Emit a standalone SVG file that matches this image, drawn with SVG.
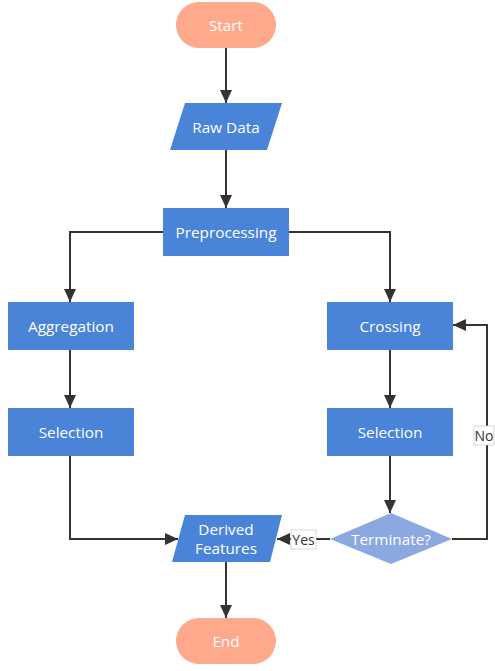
<svg xmlns="http://www.w3.org/2000/svg" width="495" height="671" viewBox="0 0 495 671">
<style>
.t{font-family:"Open Sans","Noto Sans",sans-serif;font-size:15.3px;fill:#fff;text-anchor:middle;dominant-baseline:central}
.b{fill:#4a84d9}
.s{fill:#ffa98c}
.d{fill:#8ca8e0}
.c{fill:none;stroke:#333;stroke-width:2}
.lb{fill:#fff;stroke:#ccc;stroke-width:0.8}
.lt{font-family:"Open Sans","Noto Sans",sans-serif;font-size:14px;fill:#333;text-anchor:middle;dominant-baseline:central}
</style>
<defs>
<marker id="a" markerUnits="userSpaceOnUse" markerWidth="14" markerHeight="12" refX="13" refY="6" orient="auto">
<path d="M0,0 L13,6 L0,12 Z" fill="#333"/>
</marker>
</defs>
<g id="connectors">
<path class="c" d="M226,48 V103" marker-end="url(#a)"/>
<path class="c" d="M226,150 V208" marker-end="url(#a)"/>
<path class="c" d="M163,232 H70 V302" marker-end="url(#a)"/>
<path class="c" d="M289,232 H390 V302" marker-end="url(#a)"/>
<path class="c" d="M70,350 V408" marker-end="url(#a)"/>
<path class="c" d="M390,350 V408" marker-end="url(#a)"/>
<path class="c" d="M390,456 V513" marker-end="url(#a)"/>
<path class="c" d="M70,456 V539 H178" marker-end="url(#a)"/>
<path class="c" d="M330,539 H277" marker-end="url(#a)"/>
<path class="c" d="M452,539 H487 V325 H453" marker-end="url(#a)"/>
<path class="c" d="M226,562 V618" marker-end="url(#a)"/>
<g id="label-yes"><rect class="lb" x="291" y="530" width="25" height="19"/><text class="lt" x="303.5" y="539.5">Yes</text></g>
<g id="label-no"><rect class="lb" x="474" y="426" width="20" height="19"/><text class="lt" x="484" y="435.5">No</text></g>
</g>
<g id="start"><rect class="s" x="176" y="2" width="100" height="46" rx="23"/><text class="t" x="226" y="25">Start</text></g>
<g id="rawdata"><polygon class="b" points="185,103 282,103 267,150 170,150"/><text class="t" x="226" y="127">Raw Data</text></g>
<g id="preprocessing"><rect class="b" x="163" y="208" width="126" height="48"/><text class="t" x="226" y="232">Preprocessing</text></g>
<g id="aggregation"><rect class="b" x="8" y="302" width="126" height="48"/><text class="t" x="71" y="326">Aggregation</text></g>
<g id="crossing"><rect class="b" x="327" y="302" width="126" height="48"/><text class="t" x="390" y="326">Crossing</text></g>
<g id="selection1"><rect class="b" x="8" y="408" width="126" height="48"/><text class="t" x="71" y="432">Selection</text></g>
<g id="selection2"><rect class="b" x="327" y="408" width="126" height="48"/><text class="t" x="390" y="432">Selection</text></g>
<g id="derived"><polygon class="b" points="185,515 282,515 270,562 172,562"/><text class="t" x="226" y="529">Derived</text><text class="t" x="226" y="548">Features</text></g>
<g id="terminate"><polygon class="d" points="391,513 452,539 391,564 330,539"/><text class="t" x="391" y="539">Terminate?</text></g>
<g id="end"><rect class="s" x="176" y="618" width="100" height="46" rx="23"/><text class="t" x="226" y="641">End</text></g>
</svg>
